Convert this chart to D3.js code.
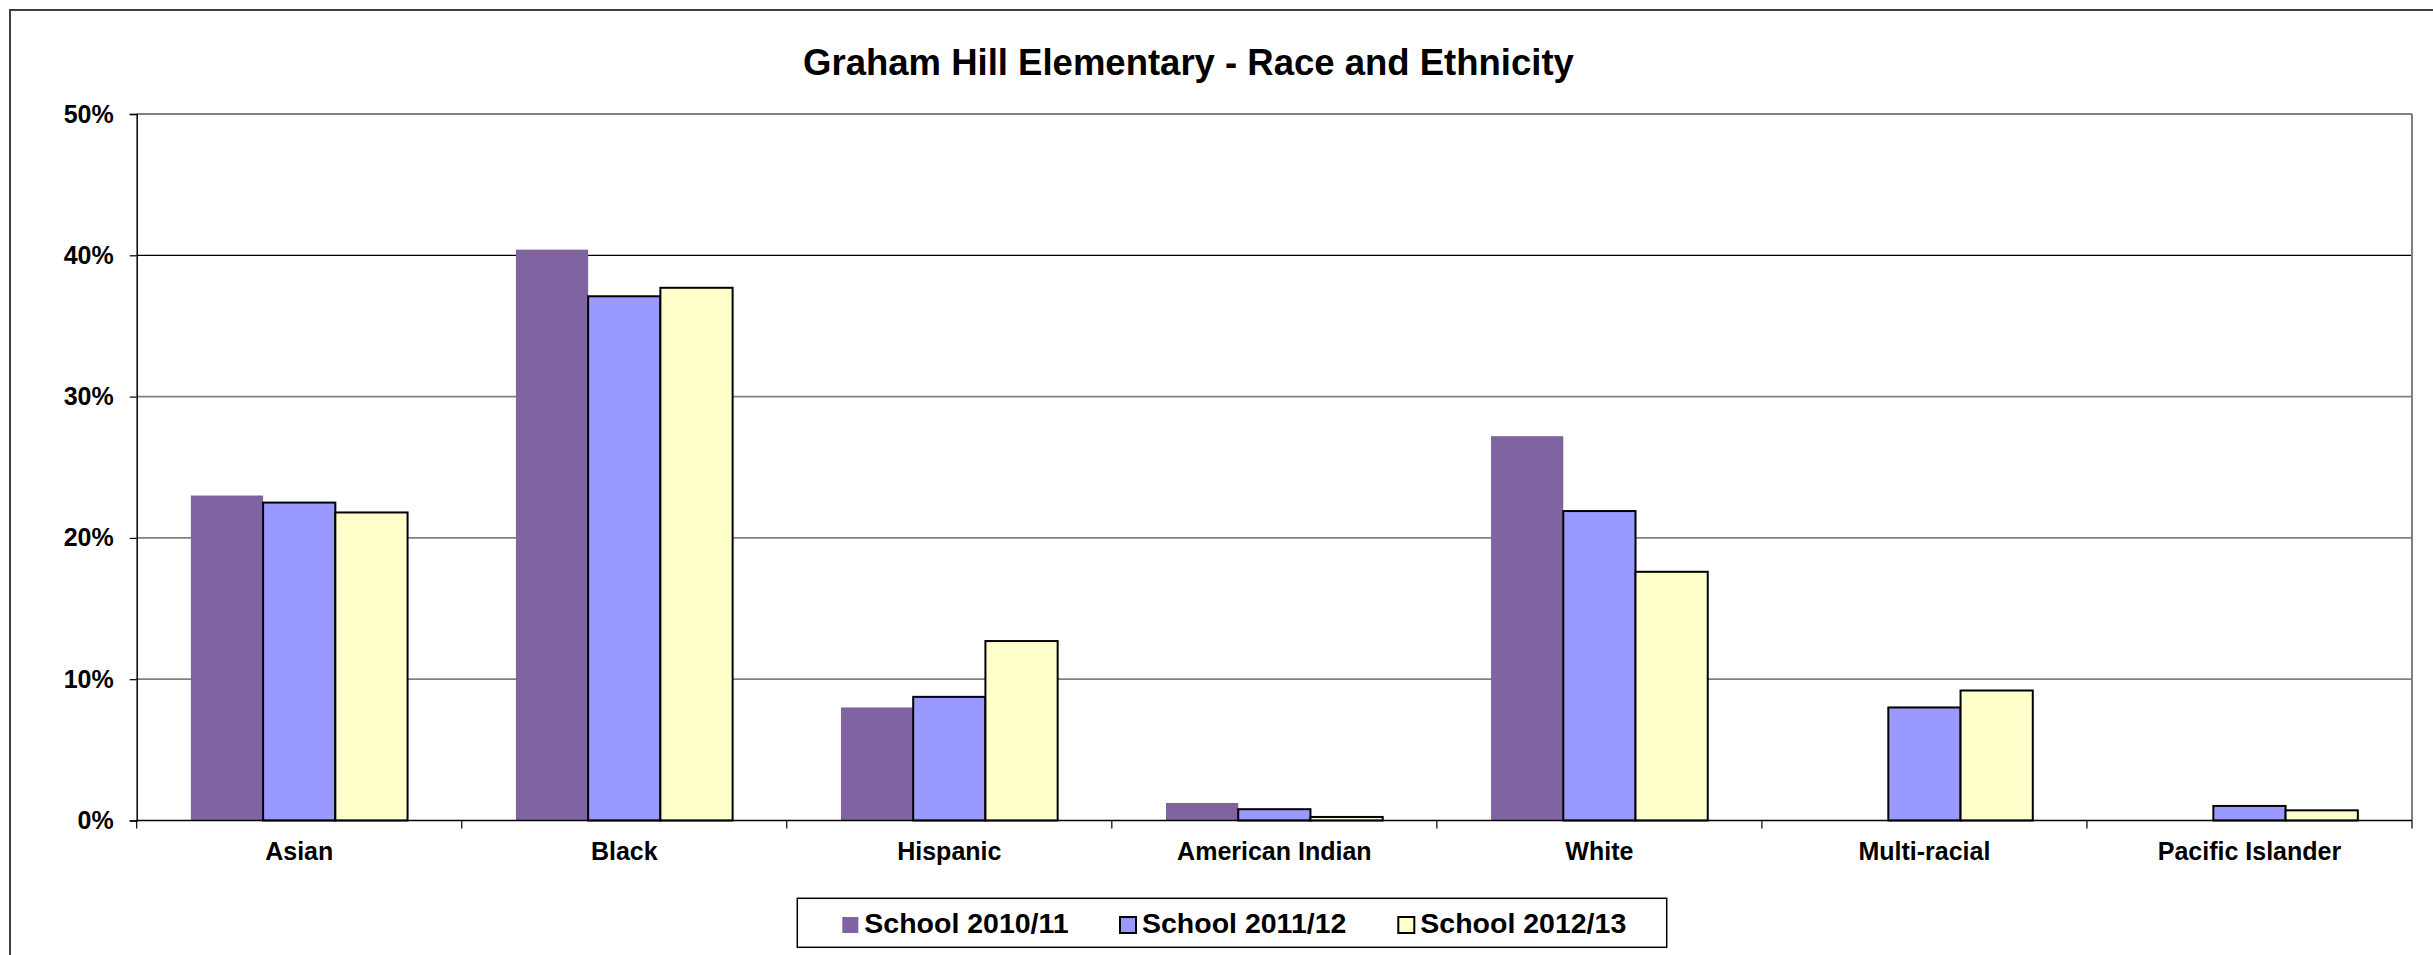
<!DOCTYPE html>
<html>
<head>
<meta charset="utf-8">
<script src="https://cdn.jsdelivr.net/npm/d3@7"></script>
<style>
  html, body { margin: 0; padding: 0; background: #fff; }
  svg { display: block; }
  text { font-family: "Liberation Sans", Arial, sans-serif; font-weight: bold; fill: #000; }
</style>
</head>
<body>
<svg id="chart" width="2433" height="955"></svg>
<script>
const categories = ["Asian", "Black", "Hispanic", "American Indian", "White", "Multi-racial", "Pacific Islander"];
const seriesNames = ["School 2010/11", "School 2011/12", "School 2012/13"];
const school2010 = [23.0, 40.4, 8.0, 1.24, 27.2, null, null];
const school2011 = [22.5, 37.1, 8.75, 0.8, 21.9, 8.0, 1.03];
const school2012 = [21.8, 37.7, 12.7, 0.25, 17.6, 9.2, 0.72];
const yTicks = [0, 10, 20, 30, 40, 50];
const title = "Graham Hill Elementary - Race and Ethnicity";

const seriesValues = [school2010, school2011, school2012];
const colors = ["#8064A2", "#9999FF", "#FFFFCC"];
const strokes = ["none", "#000", "#000"];

const svg = d3.select("#chart");
const W = 2433, H = 955;
const m = { left: 136.7, right: 2412, top: 114, bottom: 820.5 };

// outer chart border (extends beyond the image right/bottom)
svg.append("rect")
  .attr("x", 10).attr("y", 10).attr("width", W + 20).attr("height", H + 20)
  .attr("fill", "#fff").attr("stroke", "#404040").attr("stroke-width", 2);

const x = d3.scaleBand().domain(categories).range([m.left, m.right]).paddingInner(0).paddingOuter(0);
const y = d3.scaleLinear().domain([0, 50]).range([m.bottom, m.top]);

const bw = x.bandwidth() / 4.5; // gap width 150%
const xs = d3.scaleBand().domain(seriesNames).range([0.75 * bw, 3.75 * bw]).padding(0);

// gridlines
svg.append("g").selectAll("line")
  .data(yTicks.filter(t => t > 0))
  .join("line")
  .attr("x1", m.left).attr("x2", m.right)
  .attr("y1", d => y(d)).attr("y2", d => y(d))
  .attr("stroke", d => d === 40 ? "#000" : "#808080")
  .attr("stroke-width", d => d === 40 ? 1.2 : 1.8);

// right border of plot area
svg.append("line")
  .attr("x1", m.right).attr("x2", m.right)
  .attr("y1", m.top).attr("y2", m.bottom)
  .attr("stroke", "#808080").attr("stroke-width", 2);

// bars
seriesNames.forEach((s, si) => {
  const data = categories.map((c, i) => ({ c, v: seriesValues[si][i] })).filter(d => d.v != null);
  svg.append("g").selectAll("rect")
    .data(data)
    .join("rect")
    .attr("x", d => x(d.c) + xs(s))
    .attr("width", xs.bandwidth())
    .attr("y", d => y(d.v))
    .attr("height", d => y(0) - y(d.v))
    .attr("fill", colors[si])
    .attr("stroke", strokes[si])
    .attr("stroke-width", 2);
});

// y axis
const yAxis = d3.axisLeft(y).tickValues(yTicks).tickFormat(d => d + "%").tickSize(7).tickPadding(16);
const gy = svg.append("g").attr("transform", `translate(${m.left},0)`).call(yAxis);
gy.select(".domain").attr("stroke", "#000").attr("stroke-width", 1.5);
gy.selectAll(".tick line").attr("stroke", "#000").attr("stroke-width", 1.2);
gy.selectAll(".tick text").attr("font-size", 25).attr("font-family", "'Liberation Sans', Arial, sans-serif").attr("font-weight", "bold").attr("fill", "#000");

// x axis
const gx = svg.append("g").attr("transform", `translate(0,${m.bottom})`);
gx.append("line").attr("x1", m.left).attr("x2", m.right).attr("y1", 0).attr("y2", 0)
  .attr("stroke", "#000").attr("stroke-width", 1.5);
const boundaries = categories.map(c => x(c)).concat([m.right]);
gx.selectAll("line.tk").data(boundaries).join("line").attr("class", "tk")
  .attr("x1", d => d).attr("x2", d => d).attr("y1", 0).attr("y2", 8)
  .attr("stroke", "#000").attr("stroke-width", 1.2);
gx.selectAll("text").data(categories).join("text")
  .attr("x", d => x(d) + x.bandwidth() / 2)
  .attr("y", 39.5)
  .attr("text-anchor", "middle")
  .attr("font-size", 25)
  .text(d => d);

// title
svg.append("text")
  .attr("x", 1188.5).attr("y", 75)
  .attr("text-anchor", "middle")
  .attr("font-size", 36.5)
  .text(title);

// legend
const lg = svg.append("g");
lg.append("rect").attr("x", 797.3).attr("y", 898.3).attr("width", 869.4).attr("height", 49)
  .attr("fill", "#fff").attr("stroke", "#000").attr("stroke-width", 1.5);
const legendX = [842.3, 1120, 1398.3];
seriesNames.forEach((s, i) => {
  lg.append("rect")
    .attr("x", legendX[i]).attr("y", 917).attr("width", 16).attr("height", 16)
    .attr("fill", colors[i]).attr("stroke", strokes[i]).attr("stroke-width", 2);
  lg.append("text")
    .attr("x", legendX[i] + 22).attr("y", 933.3)
    .attr("font-size", 28.5)
    .text(s);
});
</script>
</body>
</html>
